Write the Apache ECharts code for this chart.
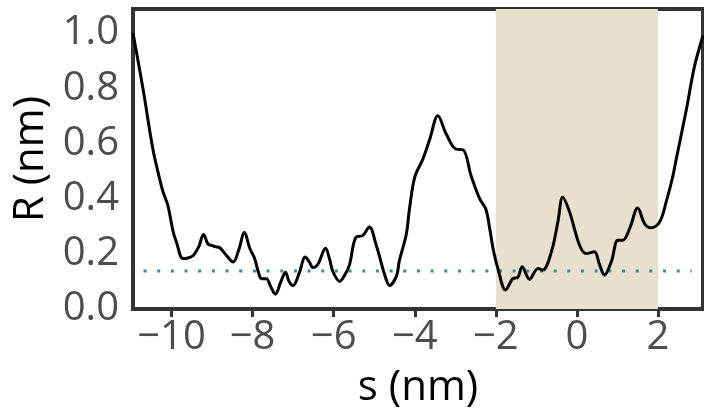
<!DOCTYPE html>
<html>
<head>
<meta charset="utf-8">
<script src="https://cdn.jsdelivr.net/npm/echarts@6/dist/echarts.min.js"></script>
<style>
html,body{margin:0;padding:0;background:#fff;}
#chart{width:704px;height:414px;}
</style>
</head>
<body>
<div id="chart"></div>
<script>
// ---- data ----
const sValues = [-10.95,-10.70,-10.46,-10.29,-10.21,-10.09,-9.96,-9.88,-9.72,-9.60,-9.47,-9.33,-9.21,-9.10,-9.02,-8.90,-8.81,-8.65,-8.48,-8.35,-8.20,-8.07,-7.95,-7.85,-7.78,-7.66,-7.55,-7.44,-7.30,-7.19,-7.10,-7.00,-6.85,-6.70,-6.60,-6.51,-6.39,-6.20,-6.10,-6.02,-5.85,-5.72,-5.61,-5.46,-5.28,-5.12,-4.95,-4.85,-4.74,-4.62,-4.45,-4.38,-4.21,-4.13,-4.00,-3.80,-3.63,-3.43,-3.22,-2.98,-2.81,-2.61,-2.40,-2.25,-2.15,-2.07,-1.95,-1.76,-1.58,-1.46,-1.35,-1.17,-0.96,-0.84,-0.63,-0.47,-0.35,-0.18,0.065,0.23,0.43,0.56,0.68,0.85,1.01,1.13,1.30,1.50,1.67,1.83,2.04,2.20,2.35,2.45,2.70,2.90,3.11];
const rValues = [1.00,0.795,0.58,0.47,0.425,0.375,0.28,0.243,0.183,0.185,0.193,0.225,0.27,0.235,0.231,0.225,0.222,0.195,0.17,0.21,0.277,0.22,0.183,0.13,0.11,0.11,0.08,0.054,0.10,0.133,0.10,0.085,0.13,0.188,0.17,0.15,0.162,0.22,0.18,0.136,0.10,0.125,0.16,0.258,0.267,0.297,0.231,0.18,0.123,0.085,0.12,0.175,0.27,0.363,0.478,0.543,0.615,0.70,0.633,0.579,0.577,0.483,0.40,0.363,0.291,0.22,0.147,0.069,0.11,0.114,0.153,0.108,0.147,0.141,0.207,0.315,0.405,0.351,0.231,0.201,0.207,0.16,0.123,0.172,0.249,0.249,0.291,0.366,0.309,0.294,0.315,0.387,0.471,0.543,0.723,0.879,0.99];
const shadeRange = [-2, 2];
const refLineX = [-10.69, 2.83];
const refLineY = 0.138;
const xTicks = [-10, -8, -6, -4, -2, 0, 2];
const yTicks = [0, 0.2, 0.4, 0.6, 0.8, 1.0];
const xRange = [-10.95, 3.11];
const yRange = [0, 1.087];

const curve = sValues.map((s, i) => [s, rValues[i]]);
const refLine = refLineX.map(x => [x, refLineY]);

const chart = echarts.init(document.getElementById('chart'), null, {renderer: 'canvas'});
const tickFont = {fontFamily: 'Open Sans', fontSize: 40, color: '#4D4D4D'};
chart.setOption({
  animation: false,
  backgroundColor: '#fff',
  grid: {left: 133, top: 9, width: 570, height: 302, show: true, borderColor: '#333', borderWidth: 4, backgroundColor: '#fff'},
  xAxis: {
    type: 'value', min: xRange[0], max: xRange[1],
    name: 's (nm)', nameLocation: 'middle', nameGap: 58,
    nameTextStyle: {fontFamily: 'Open Sans', fontSize: 42, color: '#000'},
    axisLine: {show: false},
    splitLine: {show: false},
    axisTick: {show: true, length: 8, lineStyle: {color: '#333', width: 3}, customValues: xTicks},
    axisLabel: Object.assign({margin: 9, customValues: xTicks,
      formatter: v => v < 0 ? '\u2212' + Math.abs(v) : String(v)}, tickFont)
  },
  yAxis: {
    type: 'value', min: yRange[0], max: yRange[1],
    name: 'R (nm)', nameLocation: 'middle', nameGap: 80, nameRotate: 90,
    nameTextStyle: {fontFamily: 'Open Sans', fontSize: 42, color: '#000'},
    axisLine: {show: false},
    splitLine: {show: false},
    axisTick: {show: true, length: 10, lineStyle: {color: '#333', width: 3}, customValues: yTicks},
    axisLabel: Object.assign({margin: 14, customValues: yTicks,
      formatter: v => v.toFixed(1)}, tickFont)
  },
  series: [
    {
      type: 'line', data: [], z: 1,
      markArea: {silent: true, itemStyle: {color: '#E8DFCC'},
        data: [[{xAxis: shadeRange[0]}, {xAxis: shadeRange[1]}]]}
    },
    {
      type: 'line', data: refLine, z: 3, showSymbol: false, silent: true,
      lineStyle: {color: '#3B8BA0', width: 3, type: [3, 10.67], cap: 'butt'}
    },
    {
      type: 'line', data: curve, z: 4, showSymbol: false, smooth: 0.35, silent: true,
      lineStyle: {color: '#000', width: 3}
    }
  ]
});
</script>
</body>
</html>
